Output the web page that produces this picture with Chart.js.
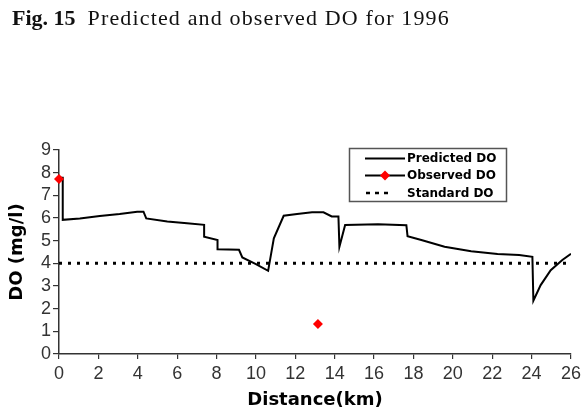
<!DOCTYPE html>
<html>
<head>
<meta charset="utf-8">
<script src="https://cdn.jsdelivr.net/npm/chart.js@4"></script>
<style>
  html, body { margin: 0; padding: 0; background: #fff; }
  #wrap { position: relative; width: 585px; height: 413px; overflow: hidden; }
  #cap { position: absolute; left: 12px; top: 5px; white-space: nowrap;
         font-family: "Liberation Serif", "Times New Roman", serif; font-size: 22px; color: #111; }
  #cap b { font-weight: bold; margin-right: 12px; }
  #cap span { letter-spacing: 1.15px; }
  canvas { position: absolute; left: 0; top: 0; }
</style>
</head>
<body>
<div id="wrap">
  <canvas id="c" width="585" height="413"></canvas>
  <div id="cap"><b>Fig. 15</b><span>Predicted and observed DO for 1996</span></div>
</div>
<script>
// ---- data ----
const predictedX = [0, 0.19, 0.19, 1.06, 2.07, 3.08, 3.97, 4.29, 4.43, 5.5, 6.5, 7.37, 7.37, 8.05, 8.05, 9.14, 9.31, 10.0, 10.62, 10.91, 11.41, 12.09, 12.85, 13.43, 13.85, 14.19, 14.24, 14.53, 16.2, 17.64, 17.7, 18.4, 19.58, 20.93, 22.27, 23.37, 24.04, 24.09, 24.46, 24.97, 25.56, 26.0];
const predictedY = [7.78, 7.78, 5.92, 5.98, 6.09, 6.18, 6.28, 6.28, 5.98, 5.85, 5.77, 5.7, 5.17, 5.03, 4.62, 4.6, 4.26, 3.97, 3.67, 5.1, 6.1, 6.18, 6.25, 6.25, 6.07, 6.07, 4.73, 5.69, 5.72, 5.68, 5.2, 5.03, 4.73, 4.53, 4.41, 4.37, 4.29, 2.35, 3.04, 3.7, 4.15, 4.42];
const observedX = [0, 13.15];
const observedY = [7.72, 1.32];
const standardX = [0, 26];
const standardDO = [4, 4];
const seriesLabels = ["Predicted DO", "Observed DO", "Standard DO"];
const xTitle = "Distance(km)";
const yTitle = "DO (mg/l)";

const pts = (xs, ys) => xs.map((x, i) => ({ x: x, y: ys[i] }));

const boxLegend = {
  id: 'boxLegend',
  afterDraw(chart) {
    const ctx = chart.ctx;
    const ds = chart.data.datasets;
    const bx = 349.5, by = 148.5, bw = 157, bh = 53;
    ctx.save();
    ctx.fillStyle = '#fff';
    ctx.fillRect(bx, by, bw, bh);
    ctx.strokeStyle = '#555';
    ctx.lineWidth = 1.5;
    ctx.strokeRect(bx, by, bw, bh);
    const rows = [158.5, 175.5, 193];
    const lx0 = 365, lx1 = 405;
    ctx.font = 'bold 12px "DejaVu Sans", Verdana, sans-serif';
    ctx.textBaseline = 'middle';
    ctx.fillStyle = '#000';
    ds.forEach((d, i) => {
      const y = rows[i];
      ctx.strokeStyle = '#000';
      if (i === 0) {
        ctx.lineWidth = 2; ctx.setLineDash([]);
        ctx.beginPath(); ctx.moveTo(lx0, y); ctx.lineTo(lx1, y); ctx.stroke();
      } else if (i === 1) {
        ctx.lineWidth = 2; ctx.setLineDash([]);
        ctx.beginPath(); ctx.moveTo(lx0, y); ctx.lineTo(lx1, y); ctx.stroke();
        ctx.fillStyle = '#ff0000';
        ctx.beginPath();
        ctx.moveTo(385, y - 5); ctx.lineTo(390, y); ctx.lineTo(385, y + 5); ctx.lineTo(380, y);
        ctx.closePath(); ctx.fill();
        ctx.fillStyle = '#000';
      } else {
        ctx.lineWidth = 2.5; ctx.setLineDash([4, 5]);
        ctx.beginPath(); ctx.moveTo(366, y); ctx.lineTo(393, y); ctx.stroke();
        ctx.setLineDash([]);
      }
      ctx.fillText(d.label, 407, y + 0.5);
    });
    ctx.restore();
  }
};

new Chart(document.getElementById('c'), {
  type: 'scatter',
  data: {
    datasets: [
      { label: seriesLabels[0], data: pts(predictedX, predictedY), showLine: true,
        borderColor: '#000', borderWidth: 2, pointRadius: 0, tension: 0, order: 2 },
      { label: seriesLabels[1], data: pts(observedX, observedY), showLine: false, clip: false,
        pointStyle: 'rectRot', pointRadius: 5, backgroundColor: '#ff0000', borderColor: '#ff0000',
        borderWidth: 0, order: 0 },
      { label: seriesLabels[2], data: pts(standardX, standardDO), showLine: true,
        borderColor: '#000', borderWidth: 3, borderDash: [3, 6], borderCapStyle: 'butt',
        pointRadius: 0, order: 1 }
    ]
  },
  options: {
    responsive: false,
    animation: false,
    layout: { padding: { top: 150, right: 10, left: 0, bottom: 0 } },
    plugins: { legend: { display: false }, tooltip: { enabled: false } },
    scales: {
      x: {
        type: 'linear', min: 0, max: 26,
        afterFit: s => { s.height = 59; },
        ticks: { stepSize: 2, autoSkip: false, maxRotation: 0, color: '#333', padding: 4,
                 font: { family: '"Liberation Sans", Arial, sans-serif', size: 18 } },
        grid: { display: true, drawOnChartArea: false, drawTicks: true, tickLength: 5, color: '#333', lineWidth: 1.2 },
        border: { display: true, color: '#333', width: 1.5 },
        title: { display: true, text: xTitle, color: '#000', padding: { top: 0, bottom: 2 },
                 font: { family: '"DejaVu Sans", Verdana, sans-serif', size: 18, weight: 'bold' } }
      },
      y: {
        type: 'linear', min: 0, max: 9,
        afterFit: s => { s.width = 59; },
        ticks: { stepSize: 1, autoSkip: false, color: '#333', padding: 2,
                 font: { family: '"Liberation Sans", Arial, sans-serif', size: 18, lineHeight: 1 } },
        grid: { display: true, drawOnChartArea: false, drawTicks: true, tickLength: 6, color: '#333', lineWidth: 1.2 },
        border: { display: true, color: '#333', width: 1.5 },
        title: { display: true, text: yTitle, color: '#000', padding: { top: 7, bottom: 0 },
                 font: { family: '"DejaVu Sans", Verdana, sans-serif', size: 18, weight: 'bold' } }
      }
    }
  },
  plugins: [boxLegend]
});
</script>
</body>
</html>
